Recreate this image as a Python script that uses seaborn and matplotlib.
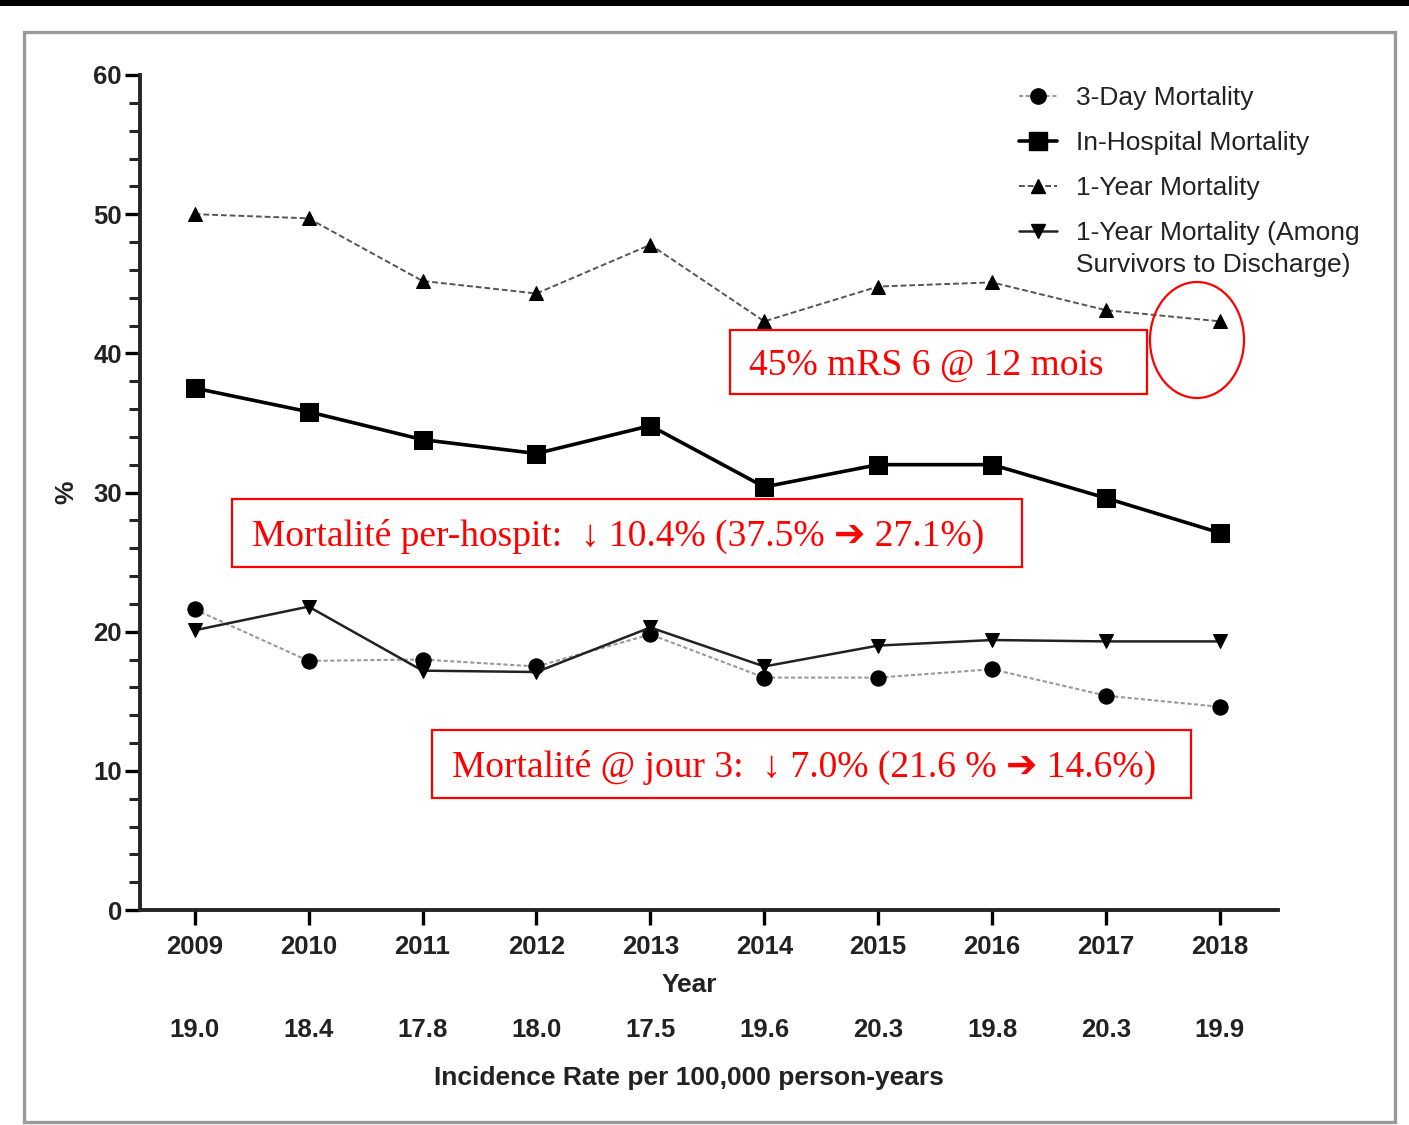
import matplotlib
matplotlib.use("Agg")
import seaborn as sns
import matplotlib.pyplot as plt
from matplotlib.lines import Line2D
from matplotlib.patches import Rectangle, Ellipse
from matplotlib.ticker import MultipleLocator
from matplotlib.transforms import blended_transform_factory

# data
years = [2009, 2010, 2011, 2012, 2013, 2014, 2015, 2016, 2017, 2018]
incidence = ["19.0", "18.4", "17.8", "18.0", "17.5", "19.6", "20.3", "19.8", "20.3", "19.9"]
mort_3day = [21.6, 17.9, 18.0, 17.5, 19.8, 16.7, 16.7, 17.3, 15.4, 14.6]
mort_hosp = [37.5, 35.8, 33.8, 32.8, 34.8, 30.4, 32.0, 32.0, 29.6, 27.1]
mort_1year = [50.0, 49.7, 45.2, 44.3, 47.8, 42.3, 44.8, 45.1, 43.1, 42.3]
mort_1year_surv = [20.1, 21.8, 17.2, 17.1, 20.3, 17.5, 19.0, 19.4, 19.3, 19.3]

labels = ["3-Day Mortality", "In-Hospital Mortality", "1-Year Mortality",
          "1-Year Mortality (Among"]
label_extra = "Survivors to Discharge)"

notes = ["45% mRS 6 @ 12 mois",
         "Mortalité per-hospit:  \u2193 10.4% (37.5% \u2794 27.1%)",
         "Mortalité @ jour 3:  \u2193 7.0% (21.6 % \u2794 14.6%)"]

sns.set_style("ticks")
plt.rcParams["font.family"] = ["Liberation Sans", "DejaVu Sans"]
SERIF = ["Liberation Serif", "DejaVu Sans"]
FS = 19

W, H = 1409, 1125
fig = plt.figure(figsize=(W / 100, H / 100), dpi=100)


def px(x, y):
    return x / W, 1 - y / H


ax = fig.add_axes([140 / W, 1 - 910 / H, 1138 / W, 835 / H])

styles = [
    dict(color="#999999", linewidth=1.5, linestyle=(0, (2, 1.2)), marker="o", markersize=11,
         markerfacecolor="black", mec="black"),
    dict(color="black", linewidth=2.6, linestyle="-", marker="s", markersize=13,
         markerfacecolor="black", mec="black"),
    dict(color="#555555", linewidth=1.4, linestyle=(0, (3, 1.5)), marker="^", markersize=10,
         markerfacecolor="black", mec="black"),
    dict(color="#222222", linewidth=1.8, linestyle="-", marker="v", markersize=10,
         markerfacecolor="black", mec="black"),
]

for vals, kw in zip([mort_3day, mort_hosp, mort_1year, mort_1year_surv], styles):
    sns.lineplot(x=years, y=vals, ax=ax, legend=False, **kw)

ax.set_xlim(2008.52, 2018.51)
ax.set_ylim(0, 60)
ax.set_xticks(years)
ax.set_yticks(range(0, 61, 10))
ax.yaxis.set_minor_locator(MultipleLocator(2))
ax.tick_params(axis="both", which="major", length=11, width=2.4, labelsize=FS - 0.5, color="black")
ax.tick_params(axis="y", which="minor", length=8, width=2.2)
ax.tick_params(axis="y", pad=2)
ax.tick_params(axis="x", pad=7)
for t in ax.get_xticklabels() + ax.get_yticklabels():
    t.set_fontweight("bold")
    t.set_color("#222222")
sns.despine(ax=ax)
for s in ["left", "bottom"]:
    ax.spines[s].set_linewidth(2.8)

ax.set_xlabel("Year", fontsize=FS, fontweight="bold", color="#222222")
ax.xaxis.set_label_coords(0.483, -0.075)
ax.set_ylabel("%", fontsize=FS, fontweight="bold", color="#222222")
ax.yaxis.set_label_coords(-0.054, 0.5)

# incidence rate row under the years
trans = blended_transform_factory(ax.transData, ax.transAxes)
for yr, inc in zip(years, incidence):
    ax.text(yr, -0.1437, inc, transform=trans, ha="center", va="center",
            fontsize=FS - 0.5, fontweight="bold", color="#222222")
fig.text(*px(689, 1078), "Incidence Rate per 100,000 person-years", ha="center", va="center",
         fontsize=FS, fontweight="bold", color="#222222")

# legend
handles = [Line2D([], [], **{k: v for k, v in kw.items() if k != "mec"}, markeredgecolor="black")
           for kw in styles]
leg = ax.legend(handles, labels, loc="upper left", bbox_to_anchor=px(1019, 86),
                bbox_transform=fig.transFigure, frameon=False, fontsize=FS,
                handlelength=1.45, handletextpad=0.72, labelspacing=0.8,
                borderpad=0, borderaxespad=0)
for t in leg.get_texts():
    t.set_color("#222222")
fig.canvas.draw()
bb = leg.get_texts()[-1].get_window_extent()
fig.text(bb.x0 / W, (bb.y0 - 20) / H, label_extra, ha="left", va="center",
         fontsize=FS, color="#222222")

# red annotations
boxes = [(730, 330, 1147, 394), (232, 499, 1022, 567), (432, 730, 1191, 798)]
text_x = [749, 252, 452]
for (x0, y0, x1, y1), tx, s in zip(boxes, text_x, notes):
    fig.add_artist(Rectangle(px(x0, y1), (x1 - x0) / W, (y1 - y0) / H, transform=fig.transFigure,
                             fill=False, edgecolor="red", linewidth=1.6))
    fig.text(*px(tx, (y0 + y1) / 2 + 3), s, ha="left", va="center", fontsize=27,
             color="red", family=SERIF)
fig.add_artist(Ellipse(px(1197, 340), 94 / W, 116 / H, transform=fig.transFigure,
                       fill=False, edgecolor="red", linewidth=1.6))

# frame and top bar of the screenshot
fig.add_artist(Rectangle(px(24, 1122), (1395 - 24) / W, (1122 - 32) / H, transform=fig.transFigure,
                         fill=False, edgecolor="#9a9a9a", linewidth=2.4))
fig.add_artist(Rectangle(px(0, 6), 1, 6 / H, transform=fig.transFigure,
                         facecolor="black", edgecolor="none"))

fig.savefig("out.png", dpi=100)
